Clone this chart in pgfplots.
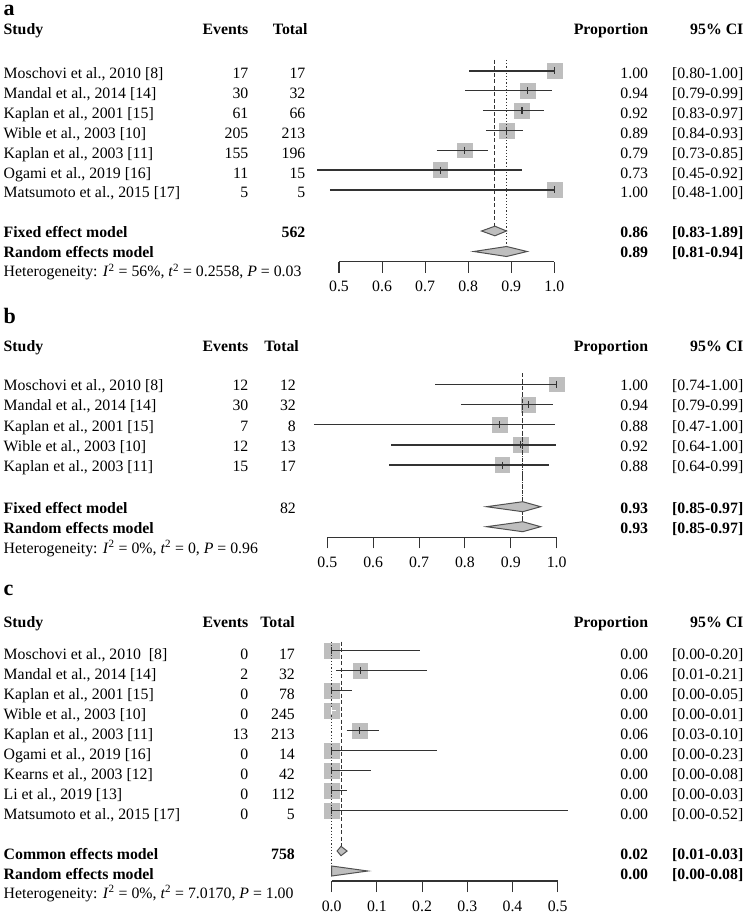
\documentclass[border=0pt]{standalone}
\usepackage{pgfplots}
\pgfplotsset{compat=1.18}
\usepackage{pgfplotstable}
\usepackage{fontspec}
\setmainfont{Liberation Serif}
\definecolor{sq}{HTML}{BEBEBE}
\definecolor{ln}{HTML}{333333}
\definecolor{dk}{HTML}{505050}
\newcommand{\fs}{\fontsize{15.8}{18}\selectfont}
\newcommand{\fl}{\fontsize{22}{24}\selectfont\bfseries}
\newcommand{\Lt}[2]{\node[anchor=base west,inner sep=0pt,font=\fs] at (3.5pt,-#1pt) {#2};}
\newcommand{\Rt}[3]{\node[anchor=base east,inner sep=0pt,font=\fs] at (#1pt,-#2pt) {#3};}
\newcommand{\Row}[7]{\Lt{#1}{#2}\Rt{248.5}{#1}{#3}\Rt{#7}{#1}{#4}\Rt{648.3}{#1}{#5}\Rt{743.5}{#1}{#6}}
\newcommand{\Het}[3]{Heterogeneity: \textit{I}\textsuperscript{2} = #1, \textit{t}\textsuperscript{2} = #2, \textit{P} = #3}

% est y  (y = negative pixel row)
\pgfplotstableread{
est y
1.000 -71
0.938 -90.8
0.925 -110.6
0.889 -130.4
0.792 -150.2
0.735 -170
1.000 -189.8
}\tabA
\pgfplotstableread{
est y
1.000 -384.2
0.938 -404.4
0.876 -424.6
0.922 -444.8
0.881 -465
}\tabB
\pgfplotstableread{
est y
0.000 -650.7
0.063 -670.7
0.000 -690.7
0.000 -710.7
0.062 -730.7
0.000 -750.7
0.000 -770.7
0.000 -790.7
0.000 -810.7
}\tabC

\pgfplotsset{
  forest/.style={scale only axis, anchor=south west, axis x line*=bottom, axis y line=none,
    ytick=\empty, clip=false, clip marker paths=true, enlargelimits=false,
    tick align=outside, major tick length=11pt, unbounded coords=jump,
    x axis line style={ln, line width=1.1pt}, xtick style={ln, line width=1.1pt},
    xticklabel style={font=\fs, anchor=base, inner sep=0pt, yshift=-19pt,
      /pgf/number format/fixed, /pgf/number format/fixed zerofill,
      /pgf/number format/precision=1, /pgf/number format/assume math mode=true}},
  sqr/.style={only marks, mark=square*, mark size=7.4pt, color=sq, mark options={draw=none, fill=sq}},
  cil/.style={ln, line width=1.4pt, mark=none},
  tck/.style={ln, line width=1.1pt, mark=none},
  dsh/.style={ln, line width=1pt, dash pattern=on 4pt off 2.5pt},
  dtt/.style={ln, line width=1pt, dash pattern=on 1.2pt off 2pt},
  dia/.style={fill=sq, draw=dk, line width=1pt},
}

\begin{document}
\begin{tikzpicture}
\useasboundingbox (0,0) rectangle (749pt,-915pt);

% ---------------- panel a ----------------
\node[anchor=base west,inner sep=0pt,font=\fl] at (3.5pt,-16pt) {a};
\Row{34.5}{\bfseries Study}{\bfseries Events}{\bfseries Total}{\bfseries Proportion}{\bfseries 95\% CI}{307.7}
\Row{79}{Moschovi et al., 2010 [8]}{17}{17}{1.00}{[0.80-1.00]}{305.5}
\Row{98.8}{Mandal et al., 2014 [14]}{30}{32}{0.94}{[0.79-0.99]}{305.5}
\Row{118.6}{Kaplan et al., 2001 [15]}{61}{66}{0.92}{[0.83-0.97]}{305.5}
\Row{138.4}{Wible et al., 2003 [10]}{205}{213}{0.89}{[0.84-0.93]}{305.5}
\Row{158.2}{Kaplan et al., 2003 [11]}{155}{196}{0.79}{[0.73-0.85]}{305.5}
\Row{178}{Ogami et al., 2019 [16]}{11}{15}{0.73}{[0.45-0.92]}{305.5}
\Row{197.8}{Matsumoto et al., 2015 [17]}{5}{5}{1.00}{[0.48-1.00]}{305.5}
\Row{237.7}{\bfseries Fixed effect model}{}{\bfseries 562}{\bfseries 0.86}{\bfseries [0.83-1.89]}{305.5}
\Row{257.7}{\bfseries Random effects model}{}{}{\bfseries 0.89}{\bfseries [0.81-0.94]}{305.5}
\Lt{276.7}{\Het{56\%}{0.2558}{0.03}}

\begin{axis}[forest, at={(339pt,-261.7pt)}, width=215.3pt, height=201.7pt,
  xmin=0.5, xmax=1, ymin=-261.7, ymax=-60, xtick={0.5,0.6,0.7,0.8,0.9,1.0}]
\addplot[sqr] table[x=est, y=y] {\tabA};
\addplot[dsh] coordinates {(0.862,-60) (0.862,-226.5)};
\addplot[dtt] coordinates {(0.889,-60) (0.889,-246.5)};
\addplot[cil] coordinates {
 (0.803,-71) (1.000,-71) (nan,nan)
 (0.793,-90.8) (0.994,-90.8) (nan,nan)
 (0.834,-110.6) (0.975,-110.6) (nan,nan)
 (0.841,-130.4) (0.927,-130.4) (nan,nan)
 (0.727,-150.2) (0.847,-150.2) (nan,nan)
 (0.450,-170) (0.924,-170) (nan,nan)
 (0.479,-189.8) (1.000,-189.8)};
\addplot[tck] coordinates {
 (1.000,-67.5) (1.000,-74.5) (nan,nan)
 (0.938,-87.3) (0.938,-94.3) (nan,nan)
 (0.925,-107.1) (0.925,-114.1) (nan,nan)
 (0.889,-126.9) (0.889,-133.9) (nan,nan)
 (0.792,-146.7) (0.792,-153.7) (nan,nan)
 (0.735,-166.5) (0.735,-173.5) (nan,nan)
 (1.000,-186.3) (1.000,-193.3)};
\addplot[dia] coordinates {(0.831,-231) (0.862,-226.2) (0.889,-231) (0.862,-235.8)} -- cycle;
\addplot[dia] coordinates {(0.813,-251.5) (0.889,-246.5) (0.937,-251.5) (0.889,-256.5)} -- cycle;
\end{axis}

% ---------------- panel b ----------------
\node[anchor=base west,inner sep=0pt,font=\fl] at (3.5pt,-323pt) {b};
\Row{351.7}{\bfseries Study}{\bfseries Events}{\bfseries Total}{\bfseries Proportion}{\bfseries 95\% CI}{299}
\Row{390.7}{Moschovi et al., 2010 [8]}{12}{12}{1.00}{[0.74-1.00]}{296}
\Row{410.9}{Mandal et al., 2014 [14]}{30}{32}{0.94}{[0.79-0.99]}{296}
\Row{431.1}{Kaplan et al., 2001 [15]}{7}{8}{0.88}{[0.47-1.00]}{296}
\Row{451.3}{Wible et al., 2003 [10]}{12}{13}{0.92}{[0.64-1.00]}{296}
\Row{471.5}{Kaplan et al., 2003 [11]}{15}{17}{0.88}{[0.64-0.99]}{296}
\Row{513}{\bfseries Fixed effect model}{}{82}{\bfseries 0.93}{\bfseries [0.85-0.97]}{296}
\Row{533}{\bfseries Random effects model}{}{}{\bfseries 0.93}{\bfseries [0.85-0.97]}{296}
\Lt{553}{\Het{0\%}{0}{0.96}}

\begin{axis}[forest, at={(327.3pt,-537.3pt)}, width=229.4pt, height=167.3pt,
  xmin=0.5, xmax=1, ymin=-537.3, ymax=-370, xtick={0.5,0.6,0.7,0.8,0.9,1.0}]
\addplot[sqr] table[x=est, y=y] {\tabB};
\addplot[dsh] coordinates {(0.926,-373) (0.926,-522)};
\addplot[dtt] coordinates {(0.926,-373) (0.926,-522)};
\addplot[cil] coordinates {
 (0.735,-384.2) (1.000,-384.2) (nan,nan)
 (0.791,-404.4) (0.991,-404.4) (nan,nan)
 (0.471,-424.6) (0.996,-424.6) (nan,nan)
 (0.639,-444.8) (0.998,-444.8) (nan,nan)
 (0.635,-465) (0.984,-465)};
\addplot[tck] coordinates {
 (1.000,-380.7) (1.000,-387.7) (nan,nan)
 (0.938,-400.9) (0.938,-407.9) (nan,nan)
 (0.876,-421.1) (0.876,-428.1) (nan,nan)
 (0.922,-441.3) (0.922,-448.3) (nan,nan)
 (0.881,-461.5) (0.881,-468.5)};
\addplot[dia] coordinates {(0.847,-506.7) (0.926,-501.7) (0.965,-506.7) (0.926,-511.7)} -- cycle;
\addplot[dia] coordinates {(0.847,-526.7) (0.926,-521.7) (0.965,-526.7) (0.926,-531.7)} -- cycle;
\end{axis}

% ---------------- panel c ----------------
\node[anchor=base west,inner sep=0pt,font=\fl] at (3.5pt,-595pt) {c};
\Row{627.3}{\bfseries Study}{\bfseries Events}{\bfseries Total}{\bfseries Proportion}{\bfseries 95\% CI}{295}
\Row{659.7}{Moschovi et al., 2010\ \ [8]}{0}{17}{0.00}{[0.00-0.20]}{295}
\Row{679.7}{Mandal et al., 2014 [14]}{2}{32}{0.06}{[0.01-0.21]}{295}
\Row{699.7}{Kaplan et al., 2001 [15]}{0}{78}{0.00}{[0.00-0.05]}{295}
\Row{719.7}{Wible et al., 2003 [10]}{0}{245}{0.00}{[0.00-0.01]}{295}
\Row{739.7}{Kaplan et al., 2003 [11]}{13}{213}{0.06}{[0.03-0.10]}{295}
\Row{759.7}{Ogami et al., 2019 [16]}{0}{14}{0.00}{[0.00-0.23]}{295}
\Row{779.7}{Kearns et al., 2003 [12]}{0}{42}{0.00}{[0.00-0.08]}{295}
\Row{799.7}{Li et al., 2019 [13]}{0}{112}{0.00}{[0.00-0.03]}{295}
\Row{819.7}{Matsumoto et al., 2015 [17]}{0}{5}{0.00}{[0.00-0.52]}{295}
\Row{859.3}{\bfseries Common effects model}{}{\bfseries 758}{\bfseries 0.02}{\bfseries [0.01-0.03]}{295}
\Row{879.3}{\bfseries Random effects model}{}{}{\bfseries 0.00}{\bfseries [0.00-0.08]}{295}
\Lt{898}{\Het{0\%}{7.0170}{1.00}}

\begin{axis}[forest, at={(331.7pt,-881pt)}, width=226pt, height=241pt,
  xmin=0, xmax=0.5, ymin=-881, ymax=-640, xtick={0,0.1,0.2,0.3,0.4,0.5}]
\addplot[sqr] table[x=est, y=y] {\tabC};
\addplot[dtt] coordinates {(0,-641.7) (0,-866)};
\addplot[dsh] coordinates {(0.0206,-641.7) (0.0206,-846.5)};
\addplot[cil] coordinates {
 (0,-650.7) (0.196,-650.7) (nan,nan)
 (0.009,-670.7) (0.210,-670.7) (nan,nan)
 (0,-690.7) (0.046,-690.7) (nan,nan)
 (0.033,-730.7) (0.105,-730.7) (nan,nan)
 (0,-750.7) (0.233,-750.7) (nan,nan)
 (0,-770.7) (0.086,-770.7) (nan,nan)
 (0,-790.7) (0.033,-790.7) (nan,nan)
 (0,-810.7) (0.522,-810.7)};
\addplot[tck] coordinates {
 (0,-647.2) (0,-654.2) (nan,nan)
 (0.063,-667.2) (0.063,-674.2) (nan,nan)
 (0,-687.2) (0,-694.2) (nan,nan)
 (0.062,-727.2) (0.062,-734.2) (nan,nan)
 (0,-747.2) (0,-754.2) (nan,nan)
 (0,-767.2) (0,-774.2) (nan,nan)
 (0,-787.2) (0,-794.2) (nan,nan)
 (0,-807.2) (0,-814.2)};
\addplot[white, line width=1.4pt] coordinates {(0,-710.7) (0.010,-710.7)};
\addplot[white, line width=1.1pt] coordinates {(0,-707.2) (0,-714.2)};
\addplot[dia] coordinates {(0.012,-851) (0.0206,-846.3) (0.034,-851) (0.0206,-855.7)} -- cycle;
\addplot[dia] coordinates {(0,-866) (0.08,-871) (0,-876)} -- cycle;
\end{axis}
\end{tikzpicture}
\end{document}
